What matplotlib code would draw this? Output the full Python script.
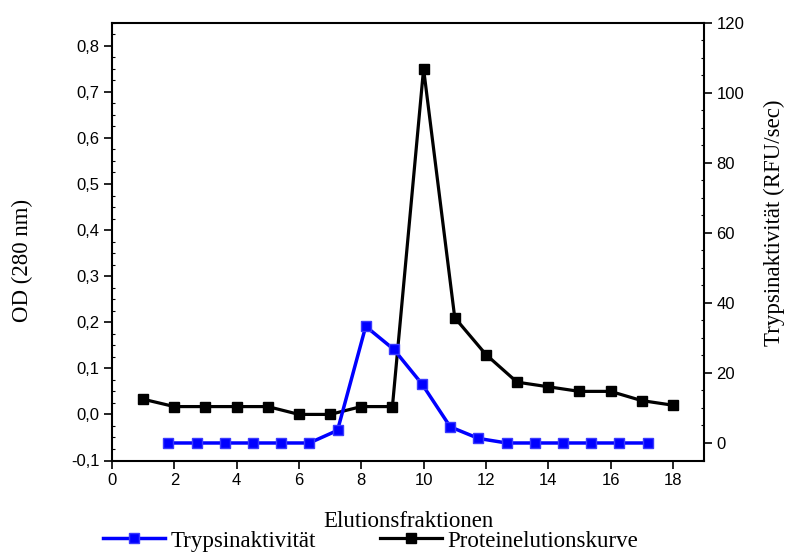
import matplotlib
matplotlib.use("Agg")
import matplotlib.pyplot as plt
from matplotlib.ticker import MultipleLocator, FuncFormatter
from matplotlib.lines import Line2D

# Elution fractions
fractions = list(range(1, 19))

# Protein elution curve, OD at 280 nm (left axis)
protein_od = [0.033, 0.017, 0.017, 0.017, 0.017, 0.0, 0.0, 0.017, 0.017,
              0.75, 0.21, 0.13, 0.07, 0.06, 0.05, 0.05, 0.03, 0.02]

# Trypsin activity, RFU/sec (right axis)
trypsin_rfu = [0.0, 0.0, 0.0, 0.0, 0.0, 0.0, 3.6, 33.3, 26.7,
               16.8, 4.6, 1.3, 0.0, 0.0, 0.0, 0.0, 0.0, 0.0]

x_ticks = list(range(0, 20, 2))
od_ticks = [-0.1, 0.0, 0.1, 0.2, 0.3, 0.4, 0.5, 0.6, 0.7, 0.8]
rfu_ticks = [0, 20, 40, 60, 80, 100, 120]

SANS = "Liberation Sans"
SERIF = "Liberation Serif"
TICK_FS = 12
LABEL_FS = 16.5
BLUE = "#0000ff"

fig = plt.figure(figsize=(7.87, 5.53), dpi=100)
rect = [112 / 787, 1 - 460.5 / 553, (704 - 112) / 787, (460.5 - 22.7) / 553]
ax = fig.add_axes(rect)

comma = FuncFormatter(lambda v, p: f"{v:.1f}".replace(".", ","))

# Protein curve on the OD axis
ax.plot(fractions, protein_od, color="black", lw=2.3, marker="s", ms=7.5,
        mec="black", mfc="black", zorder=3)
ax.set_xlim(0, 19)
ax.set_ylim(-0.1, 0.85)
ax.set_xticks(x_ticks)
ax.set_yticks(od_ticks)
ax.yaxis.set_major_formatter(comma)
ax.yaxis.set_minor_locator(MultipleLocator(0.025))
ax.tick_params(axis="both", which="major", direction="out", length=6,
               width=1.2, labelsize=TICK_FS, pad=3)
ax.tick_params(axis="y", which="minor", direction="in", length=2.5,
               width=0.8)
ax.tick_params(axis="y", which="both", right=False)
for lab in ax.get_xticklabels() + ax.get_yticklabels():
    lab.set_fontfamily(SANS)
for s in ax.spines.values():
    s.set_linewidth(1.5)

ax.set_xlabel("Elutionsfraktionen", fontsize=LABEL_FS, fontfamily=SERIF)
ax.xaxis.set_label_coords(0.5, -0.115)
ax.set_ylabel("OD (280 nm)", fontsize=LABEL_FS, fontfamily=SERIF)
ax.yaxis.set_label_coords(-0.1334, 0.458)

# Trypsin activity layer with its own fraction scale and the right axis
ax2 = fig.add_axes(rect, frameon=False)
ax2.plot(fractions, trypsin_rfu, color=BLUE, lw=2.5, marker="s", ms=7.5,
         mec="#3a3aff", mfc=BLUE, zorder=3)
ax2.set_xlim(-1, 20)
ax2.set_ylim(-5, 120)
ax2.xaxis.set_visible(False)
ax2.yaxis.tick_right()
ax2.yaxis.set_label_position("right")
ax2.set_yticks(rfu_ticks)
ax2.yaxis.set_minor_locator(MultipleLocator(5))
ax2.tick_params(axis="y", which="major", direction="out", length=6,
                width=1.2, labelsize=TICK_FS, pad=3)
ax2.tick_params(axis="y", which="minor", direction="in", length=2.5,
                width=0.8)
for lab in ax2.get_yticklabels():
    lab.set_fontfamily(SANS)
ax2.set_ylabel("Trypsinaktivität (RFU/sec)", fontsize=LABEL_FS,
               fontfamily=SERIF)
ax2.yaxis.set_label_coords(1.101, 0.5425)

handles = [
    Line2D([], [], color=BLUE, lw=2.5, marker="s", ms=7.5,
           mec="#3a3aff", mfc=BLUE),
    Line2D([], [], color="black", lw=2.3, marker="s", ms=7.5,
           mec="black", mfc="black"),
]
fig.legend(handles, ["Trypsinaktivität", "Proteinelutionskurve"],
           loc="center left", bbox_to_anchor=(103 / 787, 1 - 541 / 553),
           ncol=2, frameon=False, borderpad=0, borderaxespad=0,
           handlelength=2.7, handletextpad=0.25, columnspacing=2.8,
           prop={"family": SERIF, "size": LABEL_FS})

fig.savefig("out.png", dpi=100)
